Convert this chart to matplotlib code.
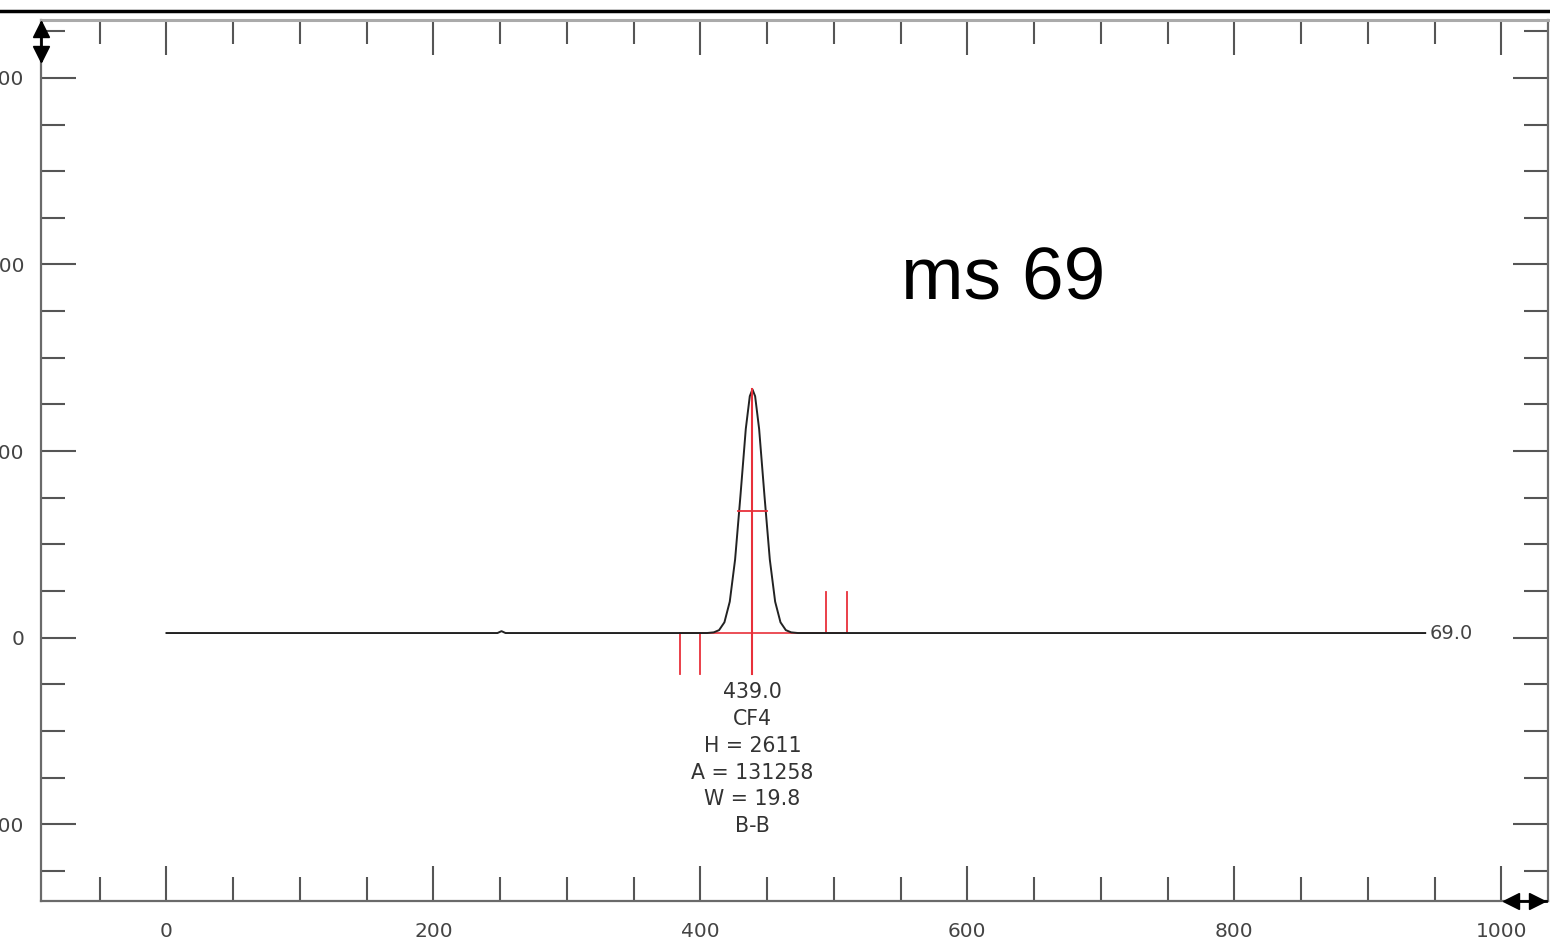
import matplotlib.pyplot as plt
from matplotlib.lines import Line2D
from matplotlib.ticker import MultipleLocator

# trace (baseline ~50 counts, one peak at 439)
trace_x = [0, 119, 196, 248, 251, 254, 330, 380, 405, 410, 414, 418, 422, 426, 430, 434,
           437, 439, 441, 444, 448, 452, 456, 460, 464, 468, 473, 520, 700, 943]
trace_y = [50, 50, 50, 50, 70, 50, 50, 50, 50, 57, 81, 165, 386, 838, 1521, 2237,
           2588, 2661, 2588, 2237, 1521, 838, 386, 165, 81, 57, 50, 50, 50, 50]

# peak info
peak_rt = 439.0
peak_name = "CF4"
peak_h = 2611
peak_a = 131258
peak_w = 19.8
peak_type = "B-B"
baseline = 50
end_label = "69.0"

# red integration marks
marks_down = [385, 400]
marks_up = [494, 509.5]
int_start, int_end = 385, 510

title_text = "ms 69"

xmajor = [0, 200, 400, 600, 800, 1000]
ymajor = [-2000, 0, 2000, 4000, 6000]

fig = plt.figure(figsize=(15.5, 9.46), dpi=100)
ax = fig.add_axes([41 / 1550, 1 - 901 / 946, 1507 / 1550, 881 / 946])

ax.plot(trace_x, trace_y, color="#222222", lw=1.4, zorder=3)

red = "#e8303a"
ax.plot([int_start, int_end], [baseline, baseline], color=red, lw=1.2, zorder=2)
ax.plot([peak_rt, peak_rt], [baseline + peak_h, -390], color=red, lw=1.5, zorder=4)
for m in marks_down:
    ax.plot([m, m], [baseline, -390], color=red, lw=1.3)
for m in marks_up:
    ax.plot([m, m], [baseline, 490], color=red, lw=1.3)
half = baseline + peak_h / 2
ax.plot([peak_rt - peak_w / 2 - 1, peak_rt + peak_w / 2 + 1], [half, half], color=red, lw=1.3, zorder=4)

ax.text(946, baseline, end_label, color="#444444", fontsize=14, va="center", ha="left")

label = "%.1f\n%s\nH = %d\nA = %d\nW = %.1f\n%s" % (peak_rt, peak_name, peak_h, peak_a, peak_w, peak_type)
ax.text(peak_rt, -480, label, color="#333333", fontsize=14.8, ha="center", va="top",
        linespacing=1.42)

ax.text(627, 3830, title_text, fontsize=54, family="Liberation Sans", ha="center", va="center")

ax.set_xlim(-94, 1035)
ax.set_ylim(-2822, 6620)

ax.set_xticks(xmajor)
ax.set_yticks(ymajor)
ax.xaxis.set_minor_locator(MultipleLocator(50))
ax.yaxis.set_minor_locator(MultipleLocator(500))
ax.tick_params(which="both", direction="in", top=True, right=True, color="#555555",
               width=1.5, labelcolor="#444444", labelsize=14.5)
ax.tick_params(which="major", length=25, pad=15)
ax.tick_params(which="minor", length=17)
ax.tick_params(axis="y", pad=12)

for s in ax.spines.values():
    s.set_color("#6a6a6a")
    s.set_linewidth(1.6)
ax.spines["top"].set_color("#aaaaaa")
ax.spines["top"].set_linewidth(2.2)

# zoom arrows (scroll handles)
tr = ax.transAxes
ax.plot([0, 0], [0.997, 0.955], color="black", lw=2, transform=tr, clip_on=False, zorder=6)
ax.plot([0], [0.9898], marker="^", ms=12, color="black", transform=tr, clip_on=False, zorder=6)
ax.plot([0], [0.9614], marker="v", ms=12, color="black", transform=tr, clip_on=False, zorder=6)
ax.plot([0.972, 0.999], [0, 0], color="black", lw=2, transform=tr, clip_on=False, zorder=6)
ax.plot([0.9755], [0], marker="<", ms=11, color="black", transform=tr, clip_on=False, zorder=6)
ax.plot([0.9927], [0], marker=">", ms=11, color="black", transform=tr, clip_on=False, zorder=6)

fig.add_artist(Line2D([0, 1], [1 - 11 / 946, 1 - 11 / 946], color="black", lw=2.5))

fig.savefig("out.png", dpi=100)
